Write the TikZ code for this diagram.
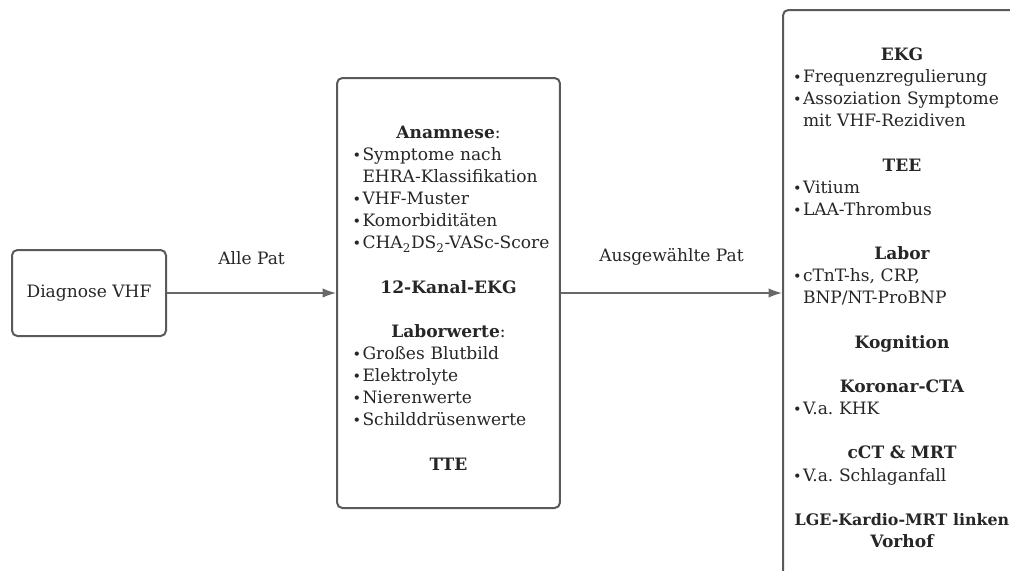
\documentclass[tikz,border=0pt]{standalone}
\usepackage{fontspec}
\setmainfont{DejaVu Serif}
\usetikzlibrary{arrows.meta}

\definecolor{boxgray}{HTML}{5A5A5A}
\definecolor{linegray}{HTML}{686868}
\definecolor{textgray}{HTML}{262626}

\newlength{\bulw}
\setlength{\bulw}{7.5pt}
% Kopfzeile (zentriert, fett) und Aufzaehlungspunkt
\newcommand{\hd}[1]{\par{\centering\bfseries #1\par}}
\newcommand{\itm}[1]{\par\hangindent=\bulw\hangafter=1\noindent\makebox[\bulw][l]{\scalebox{0.85}{•}}#1}
\newcommand{\gap}{\par\vspace{\baselineskip}}

\begin{document}
\frenchspacing
\begin{tikzpicture}[x=0.75pt,y=-0.75pt,
    box/.style={draw=boxgray, line width=1.5pt, rounded corners=4pt, fill=white,
      text=textgray, font=\fontsize{12.8}{16.6}\selectfont},
    flow/.style={draw=linegray, line width=1.1pt, -{Latex[length=10pt,width=7pt]}},
    flowlabel/.style={text=textgray, font=\fontsize{12.8}{16.6}\selectfont, above=17pt}]
    \useasboundingbox (0,0) rectangle (1010,571);
    \clip (0,0) rectangle (1010,571);

    % Nodes
    \node[box, minimum width=115.5pt, minimum height=64.5pt] (diag) at (89,293) {Diagnose VHF};

    \node[box, text width=144pt, inner xsep=11.6pt, minimum height=322.5pt, align=left] (basis) at (448.5,293) {%
      \hd{Anamnese\mdseries:}
      \itm{Symptome nach\newline EHRA-Klassifikation}
      \itm{VHF-Muster}
      \itm{Komorbiditäten}
      \itm{\mbox{CHA\textsubscript{2}DS\textsubscript{2}-VASc-Score}}
      \gap
      \hd{12-Kanal-EKG}
      \gap
      \hd{Laborwerte\mdseries:}
      \itm{Großes Blutbild}
      \itm{Elektrolyte}
      \itm{Nierenwerte}
      \itm{Schilddrüsenwerte}
      \gap
      \hd{TTE}};

    \node[box, text width=163.5pt, inner xsep=7.5pt, minimum height=424.5pt, align=left] (erweitert) at (902,293) {%
      \hd{EKG}
      \itm{Frequenzregulierung}
      \itm{\mbox{Assoziation Symptome}\newline mit VHF-Rezidiven}
      \gap
      \hd{TEE}
      \itm{Vitium}
      \itm{LAA-Thrombus}
      \gap
      \hd{Labor}
      \itm{cTnT-hs, CRP,\newline BNP/NT-ProBNP}
      \gap
      \hd{Kognition}
      \gap
      \hd{Koronar-CTA}
      \itm{V.a. KHK}
      \gap
      \hd{cCT \& MRT}
      \itm{V.a. Schlaganfall}
      \gap
      \hd{\mbox{\fontsize{11.9}{16.6}\selectfont LGE-Kardio-MRT linken}\\Vorhof}};

    % Connections
    \draw[flow] (diag) -- node[flowlabel] {Alle Pat} (basis);
    \draw[flow] (basis) -- node[flowlabel] {Ausgewählte Pat} (erweitert);
\end{tikzpicture}
\end{document}
